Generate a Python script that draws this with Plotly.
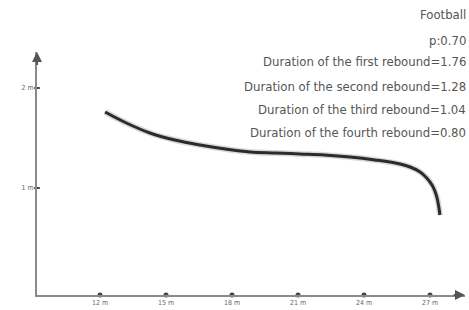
import plotly.graph_objects as go

# Data
distance_m = [12.23, 13.2, 14.27, 15.4, 16.55, 17.7, 18.82, 20.0, 21.09, 22.2, 23.36, 24.5, 25.64, 26.1, 26.55, 26.85, 27.09, 27.22, 27.32, 27.4, 27.45]
height_m = [1.76, 1.65, 1.55, 1.48, 1.43, 1.39, 1.36, 1.35, 1.34, 1.33, 1.31, 1.28, 1.24, 1.21, 1.16, 1.10, 1.03, 0.97, 0.90, 0.81, 0.73]

x_ticks = [12, 15, 18, 21, 24, 27]
x_tick_labels = ["12 m", "15 m", "18 m", "21 m", "24 m", "27 m"]
y_ticks = [1, 2]
y_tick_labels = ["1 m", "2 m"]

info_lines = [
    "Football",
    "p:0.70",
    "Duration of the first rebound=1.76",
    "Duration of the second rebound=1.28",
    "Duration of the third rebound=1.04",
    "Duration of the fourth rebound=0.80",
]
info_y_paper = [1.156, 1.049, 0.959, 0.860, 0.765, 0.667]

x_range = [9.136, 28.59]
y_range = [-0.07, 2.36]

axis_col = "#8a8a8a"
fig = go.Figure()

# curve shadow + curve
fig.add_trace(go.Scatter(x=distance_m, y=height_m, mode="lines",
                         line=dict(color="rgba(0,0,0,0.15)", width=6, shape="spline"),
                         hoverinfo="skip", showlegend=False))
fig.add_trace(go.Scatter(x=distance_m, y=height_m, mode="lines",
                         line=dict(color="#2b2b2b", width=3, shape="spline"),
                         showlegend=False))

# tick dots on the axes
fig.add_trace(go.Scatter(x=x_ticks, y=[y_range[0]] * len(x_ticks), mode="markers",
                         marker=dict(color="#444", size=5), cliponaxis=False, showlegend=False))
fig.add_trace(go.Scatter(x=[x_range[0]] * len(y_ticks), y=y_ticks, mode="markers",
                         marker=dict(color="#444", size=4, symbol="line-ew",
                                     line=dict(color="#444", width=2)),
                         cliponaxis=False, showlegend=False))

font_txt = "DejaVu Sans Condensed, Open Sans, sans-serif"
annotations = []
for t, yy in zip(info_lines, info_y_paper):
    annotations.append(dict(x=1.006, xref="paper", y=yy, yref="paper", text=t, showarrow=False,
                            xanchor="right", yanchor="middle",
                            font=dict(family=font_txt, size=13, color="#555555")))
# axis arrows
annotations.append(dict(x=1.0, y=0, ax=0.97, ay=0,
                        xref="x domain", yref="y domain", axref="x domain", ayref="y domain",
                        showarrow=True, arrowhead=2, arrowsize=1, arrowwidth=2,
                        arrowcolor="#555", text=""))
annotations.append(dict(x=0, y=1.0, ax=0, ay=0.94,
                        xref="x domain", yref="y domain", axref="x domain", ayref="y domain",
                        showarrow=True, arrowhead=2, arrowsize=1, arrowwidth=2,
                        arrowcolor="#555", text=""))

fig.update_layout(
    width=469, height=310,
    margin=dict(l=37, r=4, t=52, b=15),
    paper_bgcolor="white", plot_bgcolor="white",
    annotations=annotations,
    xaxis=dict(range=x_range, showgrid=False, zeroline=False, showline=True, automargin=False,
               linecolor=axis_col, linewidth=2, tickmode="array", tickvals=x_ticks,
               ticktext=x_tick_labels, ticks="", ticklabelstandoff=0,
               tickfont=dict(family=font_txt, size=7, color="#666")),
    yaxis=dict(range=y_range, showgrid=False, zeroline=False, showline=True, automargin=False,
               linecolor=axis_col, linewidth=2, tickmode="array", tickvals=y_ticks,
               ticktext=y_tick_labels, ticks="",
               tickfont=dict(family=font_txt, size=7, color="#666")),
)

fig.write_html(
    "out.html",
    config={"displayModeBar": False},
    post_script="document.body.style.margin='0';document.documentElement.style.overflow='hidden';document.body.style.overflow='hidden';",
)
